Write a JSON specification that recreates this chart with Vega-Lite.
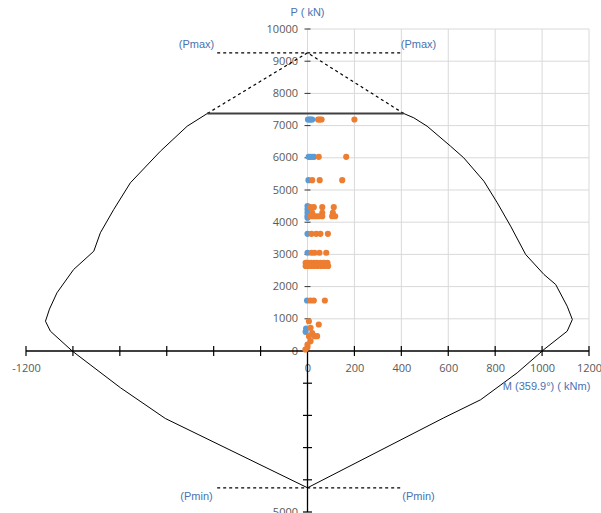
{
 "$schema": "https://vega.github.io/schema/vega-lite/v6.json",
 "width": 563,
 "height": 483,
 "autosize": {"type": "none"},
 "padding": {"left": 26, "top": 29, "right": 12, "bottom": 1},
 "background": "white",
 "config": {"view": {"stroke": null}, "font": "Liberation Sans"},
 "datasets": {
  "grid": [
   {"m": 0, "p": 0, "m2": 0, "p2": 10000},
   {"m": 200, "p": 0, "m2": 200, "p2": 10000},
   {"m": 400, "p": 0, "m2": 400, "p2": 10000},
   {"m": 600, "p": 0, "m2": 600, "p2": 10000},
   {"m": 800, "p": 0, "m2": 800, "p2": 10000},
   {"m": 1000, "p": 0, "m2": 1000, "p2": 10000},
   {"m": 1200, "p": 0, "m2": 1200, "p2": 10000},
   {"m": 0, "p": 1000, "m2": 1200, "p2": 1000},
   {"m": 0, "p": 2000, "m2": 1200, "p2": 2000},
   {"m": 0, "p": 3000, "m2": 1200, "p2": 3000},
   {"m": 0, "p": 4000, "m2": 1200, "p2": 4000},
   {"m": 0, "p": 5000, "m2": 1200, "p2": 5000},
   {"m": 0, "p": 6000, "m2": 1200, "p2": 6000},
   {"m": 0, "p": 7000, "m2": 1200, "p2": 7000},
   {"m": 0, "p": 8000, "m2": 1200, "p2": 8000},
   {"m": 0, "p": 9000, "m2": 1200, "p2": 9000},
   {"m": 0, "p": 10000, "m2": 1200, "p2": 10000}
  ],
  "axes": [
   {"m": -1200, "p": 0, "m2": 1200, "p2": 0},
   {"m": 0, "p": -5000, "m2": 0, "p2": 0}
  ],
  "xt": [
   {"m": -1200, "p": 0}, {"m": -1000, "p": 0}, {"m": -800, "p": 0}, {"m": -600, "p": 0},
   {"m": -400, "p": 0}, {"m": -200, "p": 0}, {"m": 200, "p": 0}, {"m": 400, "p": 0},
   {"m": 600, "p": 0}, {"m": 800, "p": 0}, {"m": 1000, "p": 0}, {"m": 1200, "p": 0}
  ],
  "ytn": [
   {"m": 0, "p": -1000}, {"m": 0, "p": -2000}, {"m": 0, "p": -3000}, {"m": 0, "p": -4000}, {"m": 0, "p": -5000}
  ],
  "ytp": [
   {"m": 0, "p": 1000}, {"m": 0, "p": 2000}, {"m": 0, "p": 3000}, {"m": 0, "p": 4000}, {"m": 0, "p": 5000},
   {"m": 0, "p": 6000}, {"m": 0, "p": 7000}, {"m": 0, "p": 8000}, {"m": 0, "p": 9000}, {"m": 0, "p": 10000}
  ],
  "curve": [
   {"o": 1, "m": -427, "p": 7376}, {"o": 2, "m": -513, "p": 6981}, {"o": 3, "m": -627, "p": 6205},
   {"o": 4, "m": -755, "p": 5224}, {"o": 5, "m": -826, "p": 4394}, {"o": 6, "m": -883, "p": 3671},
   {"o": 7, "m": -911, "p": 3099}, {"o": 8, "m": -997, "p": 2531}, {"o": 9, "m": -1068, "p": 1807},
   {"o": 10, "m": -1100, "p": 1300}, {"o": 11, "m": -1117, "p": 925}, {"o": 12, "m": -1096, "p": 615},
   {"o": 13, "m": -1003, "p": 0}, {"o": 14, "m": -797, "p": -1143}, {"o": 15, "m": -606, "p": -2096},
   {"o": 16, "m": 0, "p": -4248}, {"o": 17, "m": 581, "p": -2075}, {"o": 18, "m": 738, "p": -1514},
   {"o": 19, "m": 894, "p": -677}, {"o": 20, "m": 1008, "p": 47}, {"o": 21, "m": 1107, "p": 615},
   {"o": 22, "m": 1129, "p": 978}, {"o": 23, "m": 1107, "p": 1391}, {"o": 24, "m": 1058, "p": 2065},
   {"o": 25, "m": 1008, "p": 2376}, {"o": 26, "m": 930, "p": 2997}, {"o": 27, "m": 866, "p": 3876},
   {"o": 28, "m": 809, "p": 4602}, {"o": 29, "m": 752, "p": 5273}, {"o": 30, "m": 666, "p": 6000},
   {"o": 31, "m": 610, "p": 6360}, {"o": 32, "m": 510, "p": 6981}, {"o": 33, "m": 453, "p": 7242},
   {"o": 34, "m": 410, "p": 7376}
  ],
  "top": [{"o": 1, "m": -427, "p": 7376}, {"o": 2, "m": 410, "p": 7376}],
  "dash": [
   {"g": "slant", "o": 1, "m": -427, "p": 7376}, {"g": "slant", "o": 2, "m": 0, "p": 9261}, {"g": "slant", "o": 3, "m": 410, "p": 7376},
   {"g": "pmax", "o": 1, "m": -385, "p": 9261}, {"g": "pmax", "o": 2, "m": 404, "p": 9261},
   {"g": "pmin", "o": 1, "m": -385, "p": -4248}, {"g": "pmin", "o": 2, "m": 404, "p": -4248}
  ],
  "pts": [
   {"c": "b", "m": 2, "p": 7189}, {"c": "b", "m": 8, "p": 7189}, {"c": "b", "m": 14, "p": 7189}, {"c": "b", "m": 20, "p": 7189},
   {"c": "b", "m": 5, "p": 6030}, {"c": "b", "m": 12, "p": 6030}, {"c": "b", "m": 20, "p": 6030}, {"c": "b", "m": 28, "p": 6030},
   {"c": "b", "m": 4, "p": 5305},
   {"c": "b", "m": 0, "p": 4500}, {"c": "b", "m": 0, "p": 4400}, {"c": "b", "m": 0, "p": 4300}, {"c": "b", "m": 0, "p": 4200}, {"c": "b", "m": 0, "p": 4137},
   {"c": "b", "m": 0, "p": 3640}, {"c": "b", "m": 0, "p": 3050}, {"c": "b", "m": -4, "p": 2739},
   {"c": "b", "m": -2, "p": 1568}, {"c": "b", "m": -8, "p": 596}, {"c": "b", "m": -6, "p": 700},
   {"c": "o", "m": 45, "p": 7189}, {"c": "o", "m": 52, "p": 7189}, {"c": "o", "m": 60, "p": 7189}, {"c": "o", "m": 200, "p": 7189},
   {"c": "o", "m": 48, "p": 6030}, {"c": "o", "m": 165, "p": 6030},
   {"c": "o", "m": 20, "p": 5305}, {"c": "o", "m": 52, "p": 5305}, {"c": "o", "m": 148, "p": 5305},
   {"c": "o", "m": 13, "p": 4466}, {"c": "o", "m": 27, "p": 4466}, {"c": "o", "m": 63, "p": 4466}, {"c": "o", "m": 112, "p": 4466},
   {"c": "o", "m": 20, "p": 4290}, {"c": "o", "m": 63, "p": 4290}, {"c": "o", "m": 108, "p": 4290},
   {"c": "o", "m": 13, "p": 4186}, {"c": "o", "m": 25, "p": 4186}, {"c": "o", "m": 36, "p": 4186}, {"c": "o", "m": 48, "p": 4186},
   {"c": "o", "m": 63, "p": 4186}, {"c": "o", "m": 105, "p": 4186}, {"c": "o", "m": 118, "p": 4186},
   {"c": "o", "m": 17, "p": 3640}, {"c": "o", "m": 37, "p": 3640}, {"c": "o", "m": 55, "p": 3640}, {"c": "o", "m": 87, "p": 3640},
   {"c": "o", "m": 17, "p": 3050}, {"c": "o", "m": 30, "p": 3050}, {"c": "o", "m": 51, "p": 3050}, {"c": "o", "m": 80, "p": 3050},
   {"c": "o", "m": -8, "p": 2739}, {"c": "o", "m": 5, "p": 2739}, {"c": "o", "m": 15, "p": 2739}, {"c": "o", "m": 28, "p": 2739},
   {"c": "o", "m": 40, "p": 2739}, {"c": "o", "m": 55, "p": 2739}, {"c": "o", "m": 70, "p": 2739}, {"c": "o", "m": 85, "p": 2739},
   {"c": "o", "m": -8, "p": 2640}, {"c": "o", "m": 3, "p": 2640}, {"c": "o", "m": 15, "p": 2640}, {"c": "o", "m": 28, "p": 2640},
   {"c": "o", "m": 42, "p": 2640}, {"c": "o", "m": 58, "p": 2640}, {"c": "o", "m": 72, "p": 2640}, {"c": "o", "m": 88, "p": 2640},
   {"c": "o", "m": 13, "p": 1568}, {"c": "o", "m": 27, "p": 1568}, {"c": "o", "m": 74, "p": 1568},
   {"c": "o", "m": 6, "p": 925}, {"c": "o", "m": 48, "p": 823}, {"c": "o", "m": 13, "p": 720}, {"c": "o", "m": 20, "p": 560},
   {"c": "o", "m": 6, "p": 460}, {"c": "o", "m": 30, "p": 460}, {"c": "o", "m": 41, "p": 460}, {"c": "o", "m": 13, "p": 305},
   {"c": "o", "m": 0, "p": 202}, {"c": "o", "m": 0, "p": 120}, {"c": "o", "m": -9, "p": 47}
  ],
  "notes": [
   {"m": 0, "p": 10497, "t": "P ( kN)"},
   {"m": 1019, "p": -1112, "t": "M (359.9°) ( kNm)"},
   {"m": -473, "p": 9513, "t": "(Pmax)"},
   {"m": 473, "p": 9513, "t": "(Pmax)"},
   {"m": -473, "p": -4525, "t": "(Pmin)"},
   {"m": 473, "p": -4525, "t": "(Pmin)"}
  ]
 },
 "encoding": {
  "x": {
   "field": "m", "type": "quantitative",
   "scale": {"domain": [-1200, 1200], "nice": false, "zero": false},
   "axis": {
    "values": [-1200, 0, 200, 400, 600, 800, 1000, 1200],
    "labelExpr": "datum.value < 0 ? '-' + abs(datum.value) : '' + datum.value",
    "offset": -161, "domain": false, "ticks": false, "grid": false, "title": null,
    "labelPadding": 11, "labelFlush": false, "labelOverlap": false, "labelBound": false,
    "labelFont": "Open Sans", "labelFontSize": 11, "labelColor": "#595959"
   }
  },
  "y": {
   "field": "p", "type": "quantitative",
   "scale": {"domain": [-5000, 10000], "nice": false, "zero": false},
   "axis": {
    "values": [-5000, 0, 1000, 2000, 3000, 4000, 5000, 6000, 7000, 8000, 9000, 10000],
    "labelExpr": "datum.value < 0 ? '-' + abs(datum.value) : '' + datum.value",
    "offset": -281.5, "domain": false, "ticks": false, "grid": false, "title": null,
    "labelPadding": 10, "labelOverlap": false, "labelBound": false,
    "labelFont": "Open Sans", "labelFontSize": 11, "labelColor": "#595959"
   }
  }
 },
 "layer": [
  {
   "data": {"name": "grid"},
   "mark": {"type": "rule", "color": "#d9d9d9", "strokeWidth": 1},
   "encoding": {"x2": {"field": "m2"}, "y2": {"field": "p2"}}
  },
  {
   "data": {"name": "axes"},
   "mark": {"type": "rule", "color": "#000000", "strokeWidth": 1.3},
   "encoding": {"x2": {"field": "m2"}, "y2": {"field": "p2"}}
  },
  {
   "data": {"name": "xt"},
   "mark": {"type": "tick", "orient": "vertical", "size": 10, "thickness": 1.2, "color": "#000000", "opacity": 1},
   "encoding": {}
  },
  {
   "data": {"name": "ytn"},
   "mark": {"type": "tick", "orient": "horizontal", "size": 9, "thickness": 1.2, "color": "#000000", "opacity": 1},
   "encoding": {}
  },
  {
   "data": {"name": "ytp"},
   "mark": {"type": "tick", "orient": "horizontal", "size": 6, "thickness": 1, "color": "#333333", "opacity": 1, "strokeDash": [2, 1]},
   "encoding": {}
  },
  {
   "data": {"name": "curve"},
   "mark": {"type": "line", "color": "#000000", "strokeWidth": 1},
   "encoding": {"order": {"field": "o", "type": "quantitative"}}
  },
  {
   "data": {"name": "dash"},
   "mark": {"type": "line", "color": "#000000", "strokeWidth": 1.2, "strokeDash": [3, 3]},
   "encoding": {"order": {"field": "o", "type": "quantitative"}, "detail": {"field": "g"}}
  },
  {
   "data": {"name": "top"},
   "mark": {"type": "line", "color": "#404040", "strokeWidth": 2},
   "encoding": {"order": {"field": "o", "type": "quantitative"}}
  },
  {
   "data": {"name": "pts"},
   "mark": {"type": "point", "filled": true, "size": 38, "opacity": 1, "shape": "circle"},
   "encoding": {
    "color": {"field": "c", "type": "nominal", "scale": {"domain": ["b", "o"], "range": ["#5b9bd5", "#ed7d31"]}, "legend": null}
   }
  },
  {
   "data": {"name": "notes"},
   "mark": {"type": "text", "fontSize": 11, "color": "#4a72b2", "align": "center", "baseline": "middle", "font": "Liberation Sans"},
   "encoding": {"text": {"field": "t"}}
  }
 ]
}
